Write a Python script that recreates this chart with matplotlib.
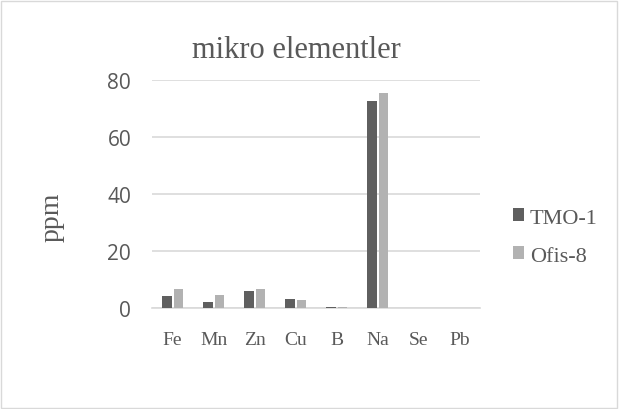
import numpy as np
import matplotlib.pyplot as plt
from matplotlib.patches import Rectangle

elementler = ["Fe", "Mn", "Zn", "Cu", "B", "Na", "Se", "Pb"]
tmo_1 = [4.4, 2.1, 5.9, 3.1, 0.5, 72.7, 0, 0]
ofis_8 = [6.7, 4.6, 6.6, 3.0, 0.5, 75.5, 0, 0]

serif = "Liberation Serif"
gri = "#595959"

fig = plt.figure(figsize=(6.19, 4.10), dpi=100)
ax = fig.add_axes([0.2456, 0.2456, 0.53, 0.5561])

x = np.arange(len(elementler))
w = 0.24
ax.bar(x - 0.135, tmo_1, w, color="#5f5f5f", label="TMO-1", zorder=3)
ax.bar(x + 0.145, ofis_8, w, color="#b2b2b2", label="Ofis-8", zorder=3)

ax.set_xlim(-0.5, len(elementler) - 0.5)
ax.set_ylim(0, 80)
ax.set_yticks(range(0, 81, 20))
ax.yaxis.grid(True, color="#d9d9d9", linewidth=1.2, zorder=0)
for s in ["top", "right", "left"]:
    ax.spines[s].set_visible(False)
ax.spines["bottom"].set_color("#d9d9d9")
ax.spines["bottom"].set_linewidth(1.2)
ax.tick_params(axis="both", length=0)
ax.tick_params(axis="y", labelsize=15, labelcolor=gri, pad=15)
for t in ax.get_yticklabels():
    t.set_fontfamily("Open Sans")
ax.set_xticks(x)
ax.set_xticklabels(elementler, fontfamily=serif, fontsize=14, color=gri)
ax.tick_params(axis="x", pad=16)

fig.text(52 / 619, 0.4707, "ppm", rotation=90, ha="center", va="center",
         fontfamily=serif, fontsize=20, color=gri)
fig.text(296 / 619, 0.8585, "mikro elementler", ha="center", va="baseline",
         fontfamily=serif, fontsize=22, color=gri)

leg = fig.legend(*ax.get_legend_handles_labels(), loc="center left",
                 bbox_to_anchor=(502 / 619, 0.4195), frameon=False, borderpad=0,
                 prop={"family": serif, "size": 16}, handlelength=0.5, handleheight=0.5,
                 labelspacing=0.85, handletextpad=0.25)
for t in leg.get_texts():
    t.set_color(gri)

fig.add_artist(Rectangle((0.002, 0.003), 0.995, 0.993, transform=fig.transFigure,
                         fill=False, edgecolor="#d9d9d9", linewidth=1))

fig.savefig("out.png", dpi=100)
